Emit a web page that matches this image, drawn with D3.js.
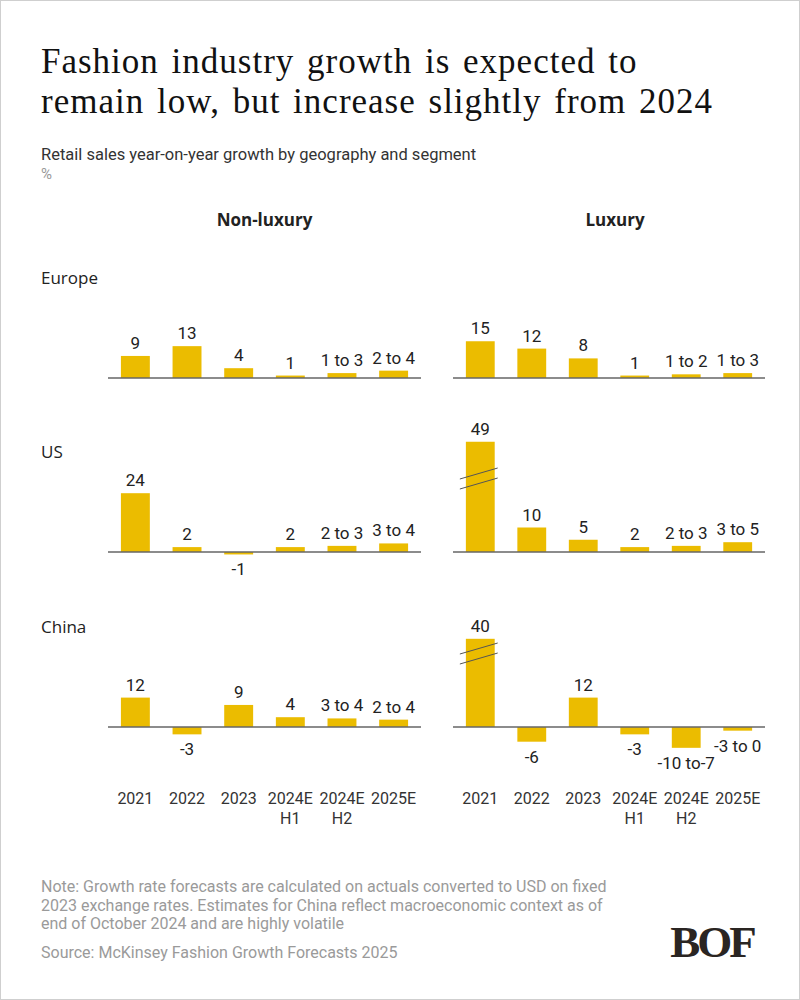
<!DOCTYPE html>
<html><head><meta charset="utf-8">
<script src="https://cdn.jsdelivr.net/npm/d3@7"></script>
<style>body{margin:0;background:#fff}svg{display:block}</style>
</head><body>
<svg id="chart" width="800" height="1000"></svg>
<script>
// ---------- data ----------
const categories = ["2021", "2022", "2023", "2024E H1", "2024E H2", "2025E"];
const tickLabels = [["2021"], ["2022"], ["2023"], ["2024E", "H1"], ["2024E", "H2"], ["2025E"]];
const segments = ["Non-luxury", "Luxury"];
const regions = ["Europe", "US", "China"];
// value labels as printed; ranges are drawn at their midpoint
const nonLuxuryEurope = ["9", "13", "4", "1", "1 to 3", "2 to 4"];
const nonLuxuryUS     = ["24", "2", "-1", "2", "2 to 3", "3 to 4"];
const nonLuxuryChina  = ["12", "-3", "9", "4", "3 to 4", "2 to 4"];
const luxuryEurope    = ["15", "12", "8", "1", "1 to 2", "1 to 3"];
const luxuryUS        = ["49", "10", "5", "2", "2 to 3", "3 to 5"];
const luxuryChina     = ["40", "-6", "12", "-3", "-10 to-7", "-3 to 0"];
const axisBreakAt = 30;   // value where the broken bars are cut
const axisBreakGap = 4;   // units removed by the cut

const titleLines = ["Fashion industry growth is expected to", "remain low, but increase slightly from 2024"];
const subtitle = "Retail sales year-on-year growth by geography and segment";
const unit = "%";
const noteLines = ["Note: Growth rate forecasts are calculated on actuals converted to USD on fixed",
  "2023 exchange rates. Estimates for China reflect macroeconomic context as of",
  "end of October 2024 and are highly volatile"];
const source = "Source: McKinsey Fashion Growth Forecasts 2025";

const grid = [[nonLuxuryEurope, luxuryEurope], [nonLuxuryUS, luxuryUS], [nonLuxuryChina, luxuryChina]];

// ---------- layout ----------
const svg = d3.select("#chart");
const sans = "Roboto, 'Liberation Sans', sans-serif";
const sans2 = "'Open Sans', 'Noto Sans', sans-serif";
const serif = "'Liberation Serif', 'DejaVu Serif', serif";
const barColor = "#EBBC00";
const textColor = "#222";

svg.append("rect").attr("x", 0.5).attr("y", 0.5).attr("width", 799).attr("height", 999)
  .attr("fill", "#fff").attr("stroke", "#cfcfcf");

// title
svg.append("g").selectAll("text").data(titleLines).join("text")
  .attr("x", 41).attr("y", (d, i) => 73 + i * 39.5)
  .attr("font-family", serif).attr("font-size", 35).attr("fill", "#111")
  .attr("letter-spacing", 1).attr("word-spacing", 3)
  .text(d => d);

svg.append("text").attr("x", 41).attr("y", 160).attr("font-family", sans).attr("font-size", 16.5)
  .attr("fill", "#333").text(subtitle);
svg.append("text").attr("x", 41).attr("y", 179).attr("font-family", sans).attr("font-size", 15)
  .attr("fill", "#999").text(unit);

const panelX = [[108, 421], [453, 765]];
const headerShift = [0, 6];
const baselines = [378, 552, 727];
const pxPerUnit = 2.45;

// segment headers
svg.append("g").selectAll("text").data(segments).join("text")
  .attr("x", (d, i) => (panelX[i][0] + panelX[i][1]) / 2 + headerShift[i])
  .attr("y", 226).attr("text-anchor", "middle")
  .attr("font-family", sans2).attr("font-size", 17).attr("font-weight", 700).attr("fill", textColor)
  .text(d => d);

// region labels
svg.append("g").selectAll("text").data(regions).join("text")
  .attr("x", 41).attr("y", (d, i) => baselines[i] - 94)
  .attr("font-family", sans2).attr("font-size", 17).attr("fill", textColor)
  .text(d => d);

function parse(label) {
  const parts = label.split("to").map(s => +s.trim());
  return parts.length > 1 ? (parts[0] + parts[1]) / 2 : parts[0];
}

grid.forEach((row, r) => {
  row.forEach((labels, s) => {
    const x = d3.scaleBand().domain(categories).range(panelX[s]).paddingInner(0.44).paddingOuter(0.25);
    const base = baselines[r];
    const y = d3.scaleLinear().domain([0, 1]).range([base, base - pxPerUnit]);
    const data = labels.map((lab, i) => {
      const v = parse(lab);
      const shown = v > axisBreakAt ? v - axisBreakGap : v;
      return { cat: categories[i], label: lab, v, shown, broken: v > axisBreakAt };
    });
    const g = svg.append("g");
    g.selectAll("rect.bar").data(data).join("rect").attr("class", "bar")
      .attr("x", d => x(d.cat)).attr("width", x.bandwidth())
      .attr("y", d => Math.min(y(d.shown), y(0)))
      .attr("height", d => Math.abs(y(d.shown) - y(0)))
      .attr("fill", barColor);
    // axis line
    g.append("line").attr("x1", panelX[s][0]).attr("x2", panelX[s][1])
      .attr("y1", y(0)).attr("y2", y(0)).attr("stroke", "#666").attr("stroke-width", 1.5);
    // break marks
    data.filter(d => d.broken).forEach(d => {
      const cy = y(axisBreakAt);
      [-5, 5].forEach(off => {
        g.append("line")
          .attr("x1", x(d.cat) - 6).attr("y1", cy + off + 5.5)
          .attr("x2", x(d.cat) + x.bandwidth() + 3).attr("y2", cy + off - 5.5)
          .attr("stroke", "#555").attr("stroke-width", 1);
      });
    });
    // value labels
    g.selectAll("text.val").data(data).join("text").attr("class", "val")
      .attr("x", d => x(d.cat) + x.bandwidth() / 2)
      .attr("y", d => d.shown >= 0 ? y(d.shown) - 7 : y(d.shown) + 21)
      .attr("text-anchor", "middle").attr("font-family", sans).attr("font-size", 17)
      .attr("fill", textColor).text(d => d.label);
    // category ticks (bottom row only)
    if (r === regions.length - 1) {
      const t = g.selectAll("text.tick").data(categories).join("text").attr("class", "tick")
        .attr("x", d => x(d) + x.bandwidth() / 2).attr("y", 804)
        .attr("text-anchor", "middle").attr("font-family", sans).attr("font-size", 16).attr("fill", "#333");
      t.each(function(d, i) {
        d3.select(this).selectAll("tspan").data(tickLabels[i]).join("tspan")
          .attr("x", x(d) + x.bandwidth() / 2).attr("dy", (l, j) => j === 0 ? 0 : 20).text(l => l);
      });
    }
  });
});

// notes
svg.append("g").selectAll("text").data(noteLines).join("text")
  .attr("x", 41).attr("y", (d, i) => 892 + i * 18.5)
  .attr("font-family", sans).attr("font-size", 16).attr("fill", "#9a9a9a").text(d => d);
svg.append("text").attr("x", 41).attr("y", 958).attr("font-family", sans).attr("font-size", 16)
  .attr("fill", "#9a9a9a").text(source);

// logo
svg.append("text").attr("x", 712).attr("y", 957).attr("text-anchor", "middle")
  .attr("font-family", serif).attr("font-size", 45).attr("font-weight", 700)
  .attr("letter-spacing", -3).attr("fill", "#2a2522").text("BOF");
</script>
</body></html>
